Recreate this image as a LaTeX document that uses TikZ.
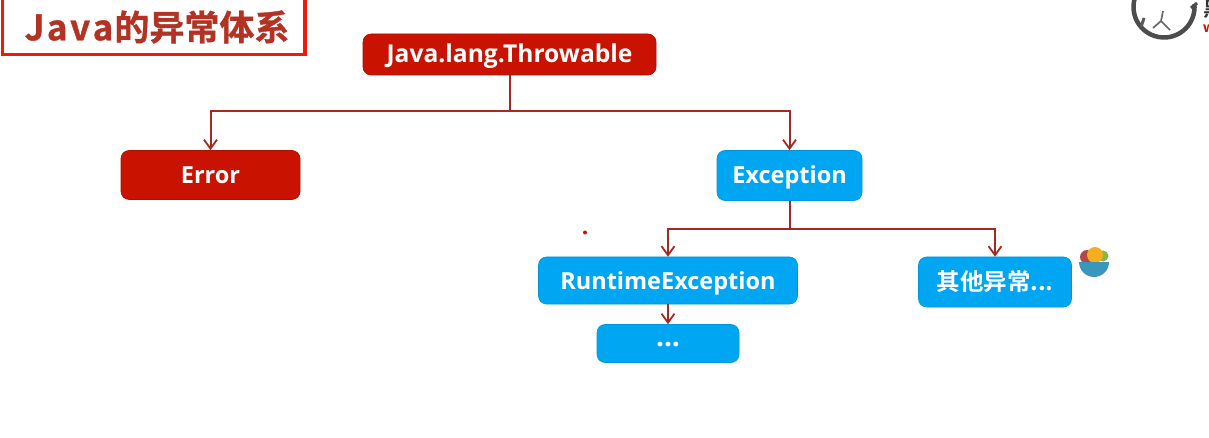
\documentclass[tikz,border=0pt]{standalone}
\usepackage{fontspec}
\setmainfont{Open Sans}
\newfontfamily\cjk{Noto Sans CJK SC}[BoldFont={Noto Sans CJK SC Bold}]
\usetikzlibrary{arrows.meta}
\definecolor{redbox}{HTML}{C91300}
\definecolor{bluebox}{HTML}{00A6F2}
\definecolor{linkred}{HTML}{A32A20}
\definecolor{titlered}{HTML}{B23324}
\definecolor{framered}{HTML}{E81E0A}
\definecolor{bowlblue}{HTML}{3A96BC}
\definecolor{fruitred}{HTML}{B04A4A}
\definecolor{fruitgreen}{HTML}{86B54C}
\definecolor{fruitorange}{HTML}{F5AE1E}
\tikzset{
  x=1pt,y=-1pt,
  boxbase/.style={rounded corners=8pt,inner sep=0pt,text=white,font=\bfseries\fontsize{23.5}{26}\selectfont,align=center,text height=17pt,text depth=0pt},
  redn/.style={boxbase,fill=redbox,draw=redbox!85!black,line width=.6pt},
  bluen/.style={boxbase,fill=bluebox,draw=bluebox!90!black,line width=.6pt},
  link/.style={draw=linkred,line width=2pt},
  arrowlink/.style={link,-{Straight Barb[length=9pt,width=13pt,line width=1.8pt]}}
}
\begin{document}
\begin{tikzpicture}
\useasboundingbox (0,0) rectangle (1209,438);
\begin{scope}
\clip (0,0) rectangle (1209,438);
% title frame
\draw[framered,line width=3.2pt,line join=miter] (2.5,-5) -- (2.5,54.5) -- (305,54.5) -- (305,-5);
\node[name=title,anchor=center,text=titlered,font=\cjk\bfseries\fontsize{35}{38}\selectfont,inner sep=0pt] at (157,27) {\addfontfeature{FakeBold=1}J\hspace{2.5pt}a\hspace{2.5pt}v\hspace{2.5pt}a\hspace{1pt}的异常体系};
% logo
\draw[black!70,line width=4.5pt] (1164,7) ++(-5:30.5) arc (-5:195:30.5);
\draw[black!70,line width=3pt] (1191,8) -- (1197,3);
\draw[black!60,line width=1.7pt] (1163,11) -- (1161,21) -- (1153,28) (1161,21) -- (1170,30);
\draw[black!65,line width=3pt] (1144,18) -- (1141,27);
\node[anchor=west,text=black!80,font=\cjk\bfseries\fontsize{20}{20}\selectfont,inner sep=0pt] at (1203,9) {黑};
\node[anchor=west,text=redbox,font=\bfseries\fontsize{14}{14}\selectfont,inner sep=0pt] at (1203,29) {w};
% nodes
\node[redn,minimum width=293pt,minimum height=41pt,font=\bfseries\fontsize{24.6}{26}\selectfont] (throwable) at (509.5,54.5) {Java.lang.Throwable};
\node[redn,minimum width=179pt,minimum height=49pt] (error) at (210.5,175) {Error};
\node[bluen,minimum width=145pt,minimum height=50pt] (exception) at (789.5,175.5) {Exception};
\node[bluen,minimum width=259pt,minimum height=47pt] (runtime) at (668,280.5) {RuntimeException};
\node[bluen,minimum width=153pt,minimum height=50pt] (other) at (995,282) {\cjk\bfseries 其他异常...};
\node[bluen,minimum width=142pt,minimum height=38pt,text height=6pt,font=\bfseries\fontsize{28}{28}\selectfont] (dots) at (668,343.5) {...};
% connectors
\coordinate (j1) at (throwable.south |- 0,111);
\coordinate (j2) at (exception.south |- 0,229);
\draw[link] (throwable.south) -- (j1);
\draw[arrowlink] (j1) -| (error.north);
\draw[arrowlink] (j1) -| (exception.north);
\draw[link] (exception.south) -- (j2);
\draw[arrowlink] (j2) -| (runtime.north);
\draw[arrowlink] (j2) -| (other.north);
\draw[arrowlink] (runtime.south) -- (dots.north);
% small dot
\fill[redbox] (585,232.5) circle (2);
% bowl icon
\fill[fruitred] (1087,257) circle (7);
\fill[fruitgreen] (1103,256) circle (5.5);
\fill[fruitorange] (1095,255) circle (8);
\fill[bowlblue] (1079,262) arc (180:0:15 and 15) -- cycle;
\end{scope}
\end{tikzpicture}
\end{document}
